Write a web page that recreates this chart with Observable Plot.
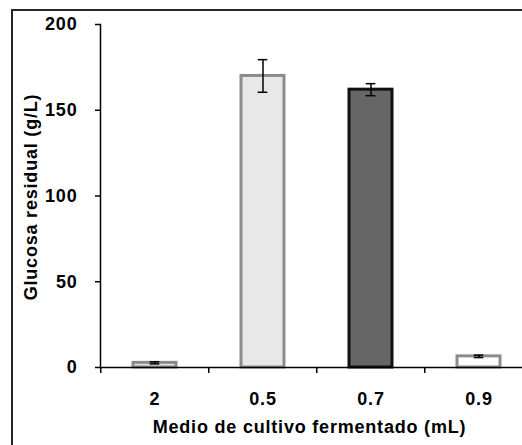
<!DOCTYPE html>
<html>
<head>
<meta charset="utf-8">
<script src="https://cdn.jsdelivr.net/npm/d3@7"></script>
<script src="https://cdn.jsdelivr.net/npm/@observablehq/plot@0.6"></script>
<style>
  html, body { margin: 0; padding: 0; background: #fff; overflow: hidden; width: 522px; height: 445px; }
  #wrap { position: relative; width: 522px; height: 445px; overflow: hidden; }
  #box { position: absolute; left: 11px; top: 9px; width: 640px; height: 640px; border: 2px solid #262626; box-sizing: border-box; }
  #chart { position: absolute; left: 0; top: 0; }
  #chart svg { max-width: none; }
  #chart svg text { letter-spacing: 0.8px; }
  #chart g[aria-label="y title"] text { letter-spacing: 1.1px; }
  #chart g[aria-label="x title"] text { letter-spacing: 1.3px; }
</style>
</head>
<body>
<div id="wrap"><div id="box"></div><div id="chart"></div></div>
<script>
// Residual glucose by volume of fermented culture medium
const categories = ["2", "0.5", "0.7", "0.9"];
const glucose = [2.7, 170, 162, 6.5];
const errors = [0.6, 9.5, 3.5, 0.7];
const fills = ["#e4e4e4", "#e8e8e8", "#666666", "#ffffff"];
const strokes = ["#8a8a8a", "#8c8c8c", "#111111", "#8c8c8c"];
const yTicks = [0, 50, 100, 150, 200];
const xTitle = ["Medio de cultivo fermentado (mL)"];
const yTitle = ["Glucosa residual (g/L)"];

const data = categories.map((c, i) => ({
  medio: c, glucosa: glucose[i], err: errors[i], fill: fills[i], stroke: strokes[i]
}));

const font = "'Liberation Sans', Arial, sans-serif";

const chart = Plot.plot({
  width: 540,
  height: 445,
  marginLeft: 100,
  marginRight: 6,
  marginTop: 24,
  marginBottom: 78,
  style: { fontFamily: font, fontWeight: "bold", fontSize: "18px", background: "none", overflow: "visible", color: "#000" },
  x: { domain: categories, paddingInner: 0.6, paddingOuter: 0.3 },
  y: { domain: [0, 200] },
  marks: [
    Plot.frame({ anchor: "left", stroke: "#000", strokeWidth: 1.5 }),
    Plot.axisY({ ticks: yTicks, tickSize: 5, tickPadding: 18, strokeWidth: 1.5, label: null }),
    // tick marks sit on the boundaries between categories
    Plot.axisX({ tickSize: 6, strokeWidth: 1.5, tickFormat: () => "", dx: -54.25, label: null }),
    Plot.axisX({ tickSize: 0, tickPadding: 25, label: null }),
    Plot.text(yTitle, { text: d => d, frameAnchor: "left", textAnchor: "middle", rotate: -90, dx: -69, dy: 1, lineAnchor: "middle", ariaLabel: "y title" }),
    Plot.text(xTitle, { text: d => d, frameAnchor: "bottom", dx: -8, dy: 60, lineAnchor: "middle", ariaLabel: "x title" }),
    Plot.barY(data, { x: "medio", y: "glucosa", fill: "fill", stroke: "stroke", strokeWidth: 3 }),
    Plot.ruleX(data, { x: "medio", y1: d => d.glucosa - d.err, y2: d => d.glucosa + d.err, stroke: "#000", strokeWidth: 1.5 }),
    Plot.tickY(data, { x: "medio", y: d => d.glucosa - d.err, stroke: "#000", strokeWidth: 1.5, insetLeft: 16.7, insetRight: 16.7 }),
    Plot.tickY(data, { x: "medio", y: d => d.glucosa + d.err, stroke: "#000", strokeWidth: 1.5, insetLeft: 16.7, insetRight: 16.7 }),
    Plot.ruleY([0], { stroke: "#000", strokeWidth: 1.5 })
  ]
});
document.getElementById("chart").appendChild(chart);
</script>
</body>
</html>
